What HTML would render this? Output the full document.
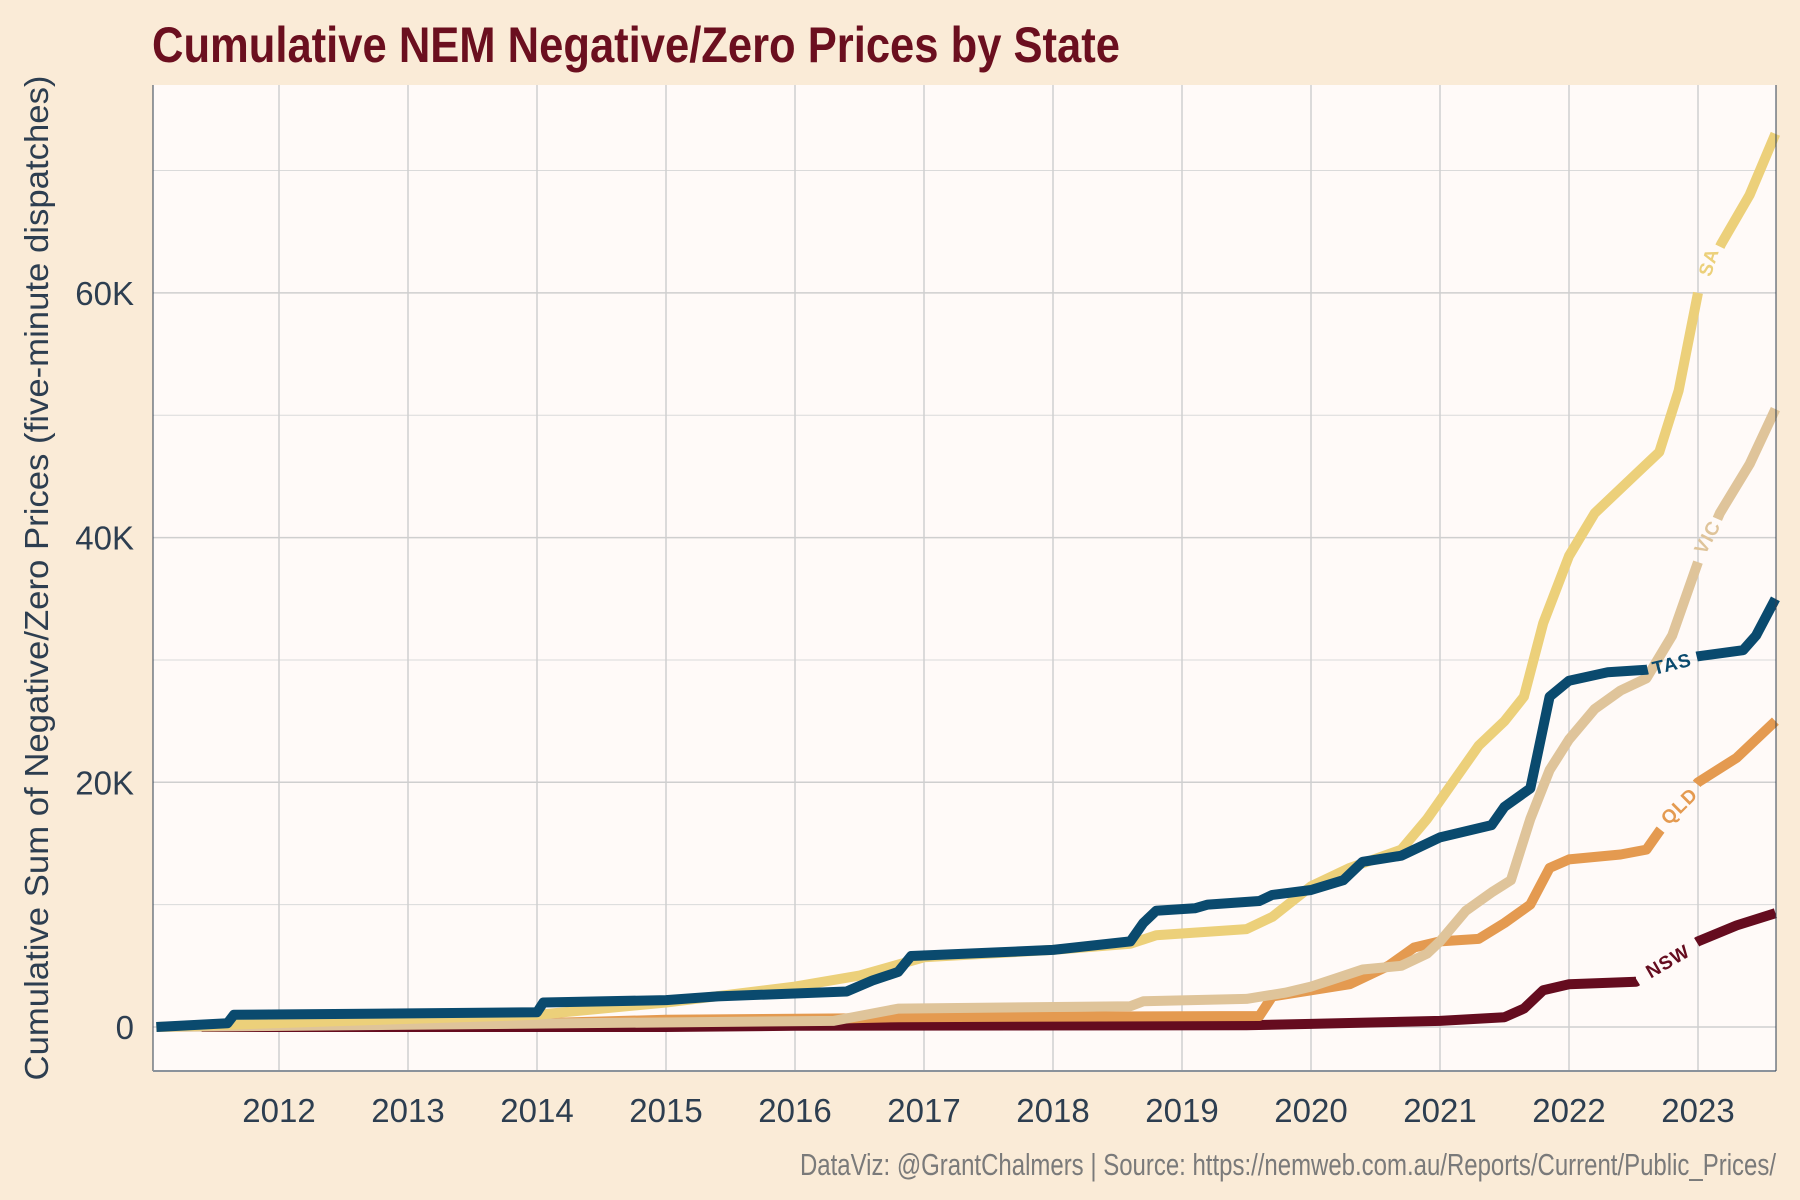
<!DOCTYPE html>
<html><head><meta charset="utf-8"><style>
html,body{margin:0;padding:0;background:#faebd7;}
svg{display:block;}
</style></head><body>
<svg id="chart" width="1800" height="1200" xmlns="http://www.w3.org/2000/svg">
<rect x="0" y="0" width="1800" height="1200" fill="#faebd7"/>
<text x="152" y="62" font-family="'Liberation Sans Narrow','Liberation Sans',sans-serif" font-weight="bold" font-size="50" fill="#6b0f1f" textLength="968" lengthAdjust="spacingAndGlyphs">Cumulative NEM Negative/Zero Prices by State</text>
<rect x="153" y="85" width="1623" height="986" fill="#fffaf8"/>
<g id="grid"></g>
<g id="series"></g>
<g id="labels"></g>
<line x1="153" y1="85" x2="153" y2="1071" stroke="#2d3e50" stroke-width="1"/>
<line x1="153" y1="1071" x2="1776" y2="1071" stroke="#8a929b" stroke-width="2"/>
<line x1="1776" y1="85" x2="1776" y2="1071" stroke="#2d3e50" stroke-width="1"/>
<g id="axes"></g>
<text transform="translate(48,578) rotate(-90)" text-anchor="middle" font-family="'Liberation Sans',sans-serif" font-size="33" fill="#2d3e50" textLength="1005" lengthAdjust="spacingAndGlyphs">Cumulative Sum of Negative/Zero Prices (five-minute dispatches)</text>
<text x="1776" y="1175" text-anchor="end" font-family="'Liberation Sans Narrow','Liberation Sans',sans-serif" font-size="31" fill="#7a7a7a" textLength="976" lengthAdjust="spacingAndGlyphs">DataViz: @GrantChalmers | Source: https://nemweb.com.au/Reports/Current/Public_Prices/</text>
</svg>
<script>
const xTickYears = [2012,2013,2014,2015,2016,2017,2018,2019,2020,2021,2022,2023];
const yTickValues = [0,20000,40000,60000];
const yTickLabels = ["0","20K","40K","60K"];
const yMinorValues = [10000,30000,50000,70000];

const nswYears = [2011.4,2015,2016,2019.5,2020,2021,2021.5,2021.65,2021.8,2022,2022.52,2023.0,2023.3,2023.6];
const nswValues = [0,0,100,150,250,500,800,1500,3000,3500,3700,7000,8300,9300];
const qldYears = [2011.4,2014,2015,2016.4,2016.8,2019.6,2019.7,2020,2020.3,2020.6,2020.8,2021,2021.3,2021.5,2021.7,2021.85,2022,2022.4,2022.6,2022.7,2023.0,2023.3,2023.6];
const qldValues = [100,300,600,700,800,900,2500,3000,3500,5000,6500,7000,7200,8500,10000,13000,13700,14100,14500,16000,20000,22000,25000];
const vicYears = [2011.05,2016.3,2016.8,2018.6,2018.7,2019.5,2019.8,2020,2020.2,2020.4,2020.7,2020.9,2021,2021.2,2021.4,2021.55,2021.7,2021.85,2022,2022.2,2022.4,2022.6,2022.8,2023.0,2023.17,2023.4,2023.6];
const vicValues = [0,500,1500,1700,2100,2300,2800,3300,4000,4700,5000,6000,7000,9500,11000,12000,17000,21000,23500,26000,27500,28500,32000,38000,42000,46000,50500];
const saYears = [2011.05,2014,2015,2016,2016.5,2017,2018,2018.6,2018.8,2019.5,2019.7,2020,2020.3,2020.7,2020.9,2021.1,2021.3,2021.5,2021.65,2021.8,2022,2022.2,2022.5,2022.7,2022.85,2023.0,2023.18,2023.4,2023.6];
const saValues = [0,1000,2000,3300,4200,5700,6300,6800,7500,8000,9000,11500,13000,14500,17000,20000,23000,25000,27000,33000,38500,42000,45000,47000,52000,60000,64000,68000,73000];
const tasYears = [2011.05,2011.6,2011.65,2014,2014.05,2015,2015.4,2016.4,2016.6,2016.8,2016.9,2018,2018.6,2018.7,2018.8,2019.1,2019.2,2019.6,2019.7,2020,2020.25,2020.4,2020.7,2021,2021.4,2021.5,2021.7,2021.75,2021.85,2022,2022.3,2022.6,2023.0,2023.35,2023.45,2023.6];
const tasValues = [0,300,1000,1200,2000,2200,2500,2900,3800,4500,5800,6300,7000,8500,9500,9700,10000,10300,10800,11200,12000,13500,14000,15500,16500,18000,19500,22000,27000,28300,29000,29200,30300,30800,32000,35000];

const NS="http://www.w3.org/2000/svg";
function xs(yr){return 279+(yr-2012)*129;}
function ys(v){return 1027-v*0.012235;}
function mk(tag,parent,attrs){const e=document.createElementNS(NS,tag);for(const k in attrs)e.setAttribute(k,attrs[k]);parent.appendChild(e);return e;}
function interp(yrs,vals,y){for(let i=1;i<yrs.length;i++){if(y<=yrs[i]){const t=(y-yrs[i-1])/(yrs[i]-yrs[i-1]);return vals[i-1]+t*(vals[i]-vals[i-1]);}}return vals[vals.length-1];}

const grid=document.getElementById('grid');
yMinorValues.forEach(v=>{const l=mk('line',grid,{x1:153,x2:1776,y1:ys(v),y2:ys(v),stroke:'#dadada','stroke-width':1});

});
yTickValues.forEach(v=>{const l=mk('line',grid,{x1:153,x2:1776,y1:ys(v),y2:ys(v),stroke:'#cfcfcf','stroke-width':1.5});

});
xTickYears.forEach(y=>{const l=mk('line',grid,{x1:xs(y),x2:xs(y),y1:85,y2:1071,stroke:'#cfcfcf','stroke-width':1.5});

});

const axes=document.getElementById('axes');
yTickValues.forEach((v,i)=>{const t=mk('text',axes,{x:134,y:ys(v)+12,'text-anchor':'end','font-family':"'Liberation Sans',sans-serif",'font-size':33,fill:'#2d3e50'});t.textContent=yTickLabels[i];

});
xTickYears.forEach(y=>{const t=mk('text',axes,{x:xs(y),y:1122,'text-anchor':'middle','font-family':"'Liberation Sans',sans-serif",'font-size':33,fill:'#2d3e50'});t.textContent=String(y);

});

const defs=[
 {name:"NSW",yrs:nswYears,vals:nswValues,color:"#650c1f",gap:[2022.53,2022.99],lab:[2022.77,5300],rot:-30},
 {name:"QLD",yrs:qldYears,vals:qldValues,color:"#e49a50",gap:[2022.71,2022.99],lab:[2022.86,18000],rot:-45},
 {name:"VIC",yrs:vicYears,vals:vicValues,color:"#dfc49a",gap:[2023.0,2023.15],lab:[2023.08,40000],rot:-62},
 {name:"SA",yrs:saYears,vals:saValues,color:"#ecd07a",gap:[2023.0,2023.17],lab:[2023.09,62500],rot:-72},
 {name:"TAS",yrs:tasYears,vals:tasValues,color:"#0a4a6e",gap:[2022.61,2022.99],lab:[2022.8,29600],rot:-14}
];
const sg=document.getElementById('series');
const lg=document.getElementById('labels');
defs.forEach(s=>{
  const a=s.gap[0],b=s.gap[1];
  const seg1=[],seg2=[];
  s.yrs.forEach((y,i)=>{if(y<a)seg1.push([y,s.vals[i]]);});
  seg1.push([a,interp(s.yrs,s.vals,a)]);
  seg2.push([b,interp(s.yrs,s.vals,b)]);
  s.yrs.forEach((y,i)=>{if(y>b)seg2.push([y,s.vals[i]]);});
  [seg1,seg2].forEach(seg=>{
    if(seg.length<2)return;
    const d=seg.map((p,i)=>(i?'L':'M')+xs(p[0]).toFixed(1)+','+ys(p[1]).toFixed(1)).join(' ');
    const p=mk('path',sg,{d:d,fill:'none',stroke:s.color,'stroke-width':10,'stroke-linejoin':'round'});
    
    
  });
  const lx=xs(s.lab[0]),ly=ys(s.lab[1]);
  const t=mk('text',lg,{x:lx,y:ly,'text-anchor':'middle','dominant-baseline':'central',transform:`rotate(${s.rot} ${lx} ${ly})`,'font-family':"'Liberation Sans',sans-serif",'font-size':19,'font-weight':'bold',fill:s.color,'letter-spacing':1});
  t.textContent=s.name;
  
  
});
</script>
</body></html>
